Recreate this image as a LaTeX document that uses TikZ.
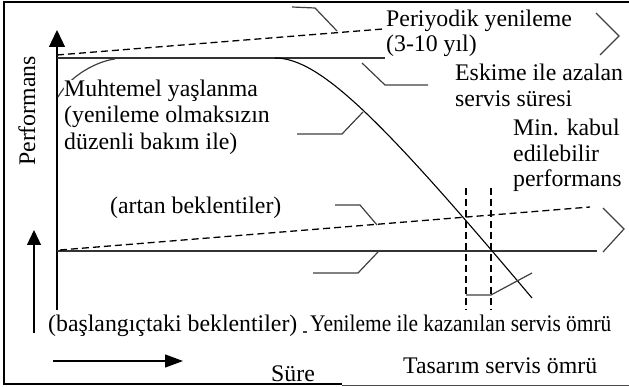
\documentclass[tikz,border=0pt]{standalone}
\usepackage{fontspec}
\setmainfont{Liberation Serif}
\usetikzlibrary{arrows.meta}
\begin{document}
\begin{tikzpicture}[x=1pt,y=-1pt,
  lbl/.style={inner sep=0pt, anchor=base west, font=\fontsize{23.8}{28}\selectfont},
  frame/.style={line width=2pt},
  axis/.style={line width=1.3pt},
  level/.style={line width=1.8pt, black!80},
  trend/.style={line width=1.3pt, dash pattern=on 7pt off 4pt},
  marker/.style={line width=1.2pt, dash pattern=on 7pt off 4pt},
  leader/.style={line width=1.2pt, black!75},
  curveline/.style={line width=1.1pt},
]
\useasboundingbox (0,0) rectangle (629,387);
\fill[white] (0,0) rectangle (629,387);
% outer frame (open on the right, bottom edge thinner towards the right)
\draw[frame] (629,2) -- (4,2) -- (4,384) -- (342,384);
\draw[line width=1pt, black!70] (342,385) -- (629,385);

% axes and direction arrows
\coordinate (ybot) at (57,310);
\coordinate (ytop) at (57,30);
\draw[axis, -{Triangle[length=17pt,width=16pt]}] (ybot) -- (ytop);
\coordinate (ubot) at (34,333);
\coordinate (utop) at (34,230);
\draw[axis, -{Triangle[length=15pt,width=14pt]}] (ubot) -- (utop);
\coordinate (tleft) at (53,361);
\coordinate (tright) at (183,361);
\draw[axis, -{Triangle[length=18pt,width=13pt]}] (tleft) -- (tright);

% performance levels
\coordinate (hiA) at (57,58);   \coordinate (hiB) at (385,58);
\coordinate (loA) at (57,251);  \coordinate (loB) at (597,251);
\draw[level] (hiA) -- (hiB);
\draw[level] (loA) -- (loB);

% rising expectations (dashed)
\coordinate (hdA) at (57,55);  \coordinate (hdB) at (383,29);
\coordinate (ldA) at (60,250); \coordinate (ldB) at (590,207);
\draw[trend] (hdA) -- (hdB);
\draw[trend] (ldA) -- (ldB);

% open chevrons at the right
\draw[leader] (596,13) -- (619,36) -- (600,55);
\draw[leader] (603,208) -- (624,229) -- (603,252);

% ageing curve
\coordinate (agA) at (275,58);
\coordinate (agB) at (532,298);
\draw[curveline] (agA) .. controls (320,58) and (382,120) .. (agB);

% service-life markers
\coordinate (m1t) at (466,188); \coordinate (m1b) at (466,310);
\coordinate (m2t) at (491,188); \coordinate (m2b) at (491,310);
\draw[marker] (m1t) -- (m1b);
\draw[marker] (m2t) -- (m2b);
\draw[leader] (466,295) -- (491,295) -- (532,273);

% label leaders
\draw[leader] (292,7) -- (315,8) -- (337,31);
\draw[leader] (362,63) -- (385,85) -- (428,85);
\draw[leader] (297,134) -- (342,134) -- (363,112);
\draw[leader] (335,205) -- (360,205) -- (377,225);
\draw[leader] (378,252) -- (358,273) -- (313,273);
\draw[leader] (115,59) .. controls (98,61) and (70,75) .. (58,97);
\draw[leader] (303,332) -- (307,332);

% labels
\node[lbl] (per1) at (386,27) {Periyodik yenileme};
\node[lbl] (per2) at (386,52) {(3-10 yıl)};
\node[lbl] (esk1) at (455,81) {Eskime ile azalan};
\node[lbl] (esk2) at (455,107) {servis süresi};
\node[lbl] (min1) at (513,136) {Min. kabul};
\node[lbl] (min2) at (513,162) {edilebilir};
\node[lbl] (min3) at (513,187) {performans};
\node[lbl, fill=white] (muh1) at (64,97) {Muhtemel yaşlanma};
\node[lbl] (muh2) at (64,123) {(yenileme olmaksızın};
\node[lbl] (muh3) at (64,150) {düzenli bakım ile)};
\node[lbl, rotate=90] (perf) at (35,166) {Performans};
\node[lbl] (art) at (110,214) {(artan beklentiler)};
\node[lbl] (bas) at (48,331) {(başlangıçtaki beklentiler)};
\node[lbl] (yen) at (310,331) {\scalebox{0.9}[1]{Yenileme ile kazanılan servis ömrü}};
\node[lbl] (sure) at (271,381) {Süre};
\node[lbl] (tas) at (403,373) {Tasarım servis ömrü};
\end{tikzpicture}
\end{document}
